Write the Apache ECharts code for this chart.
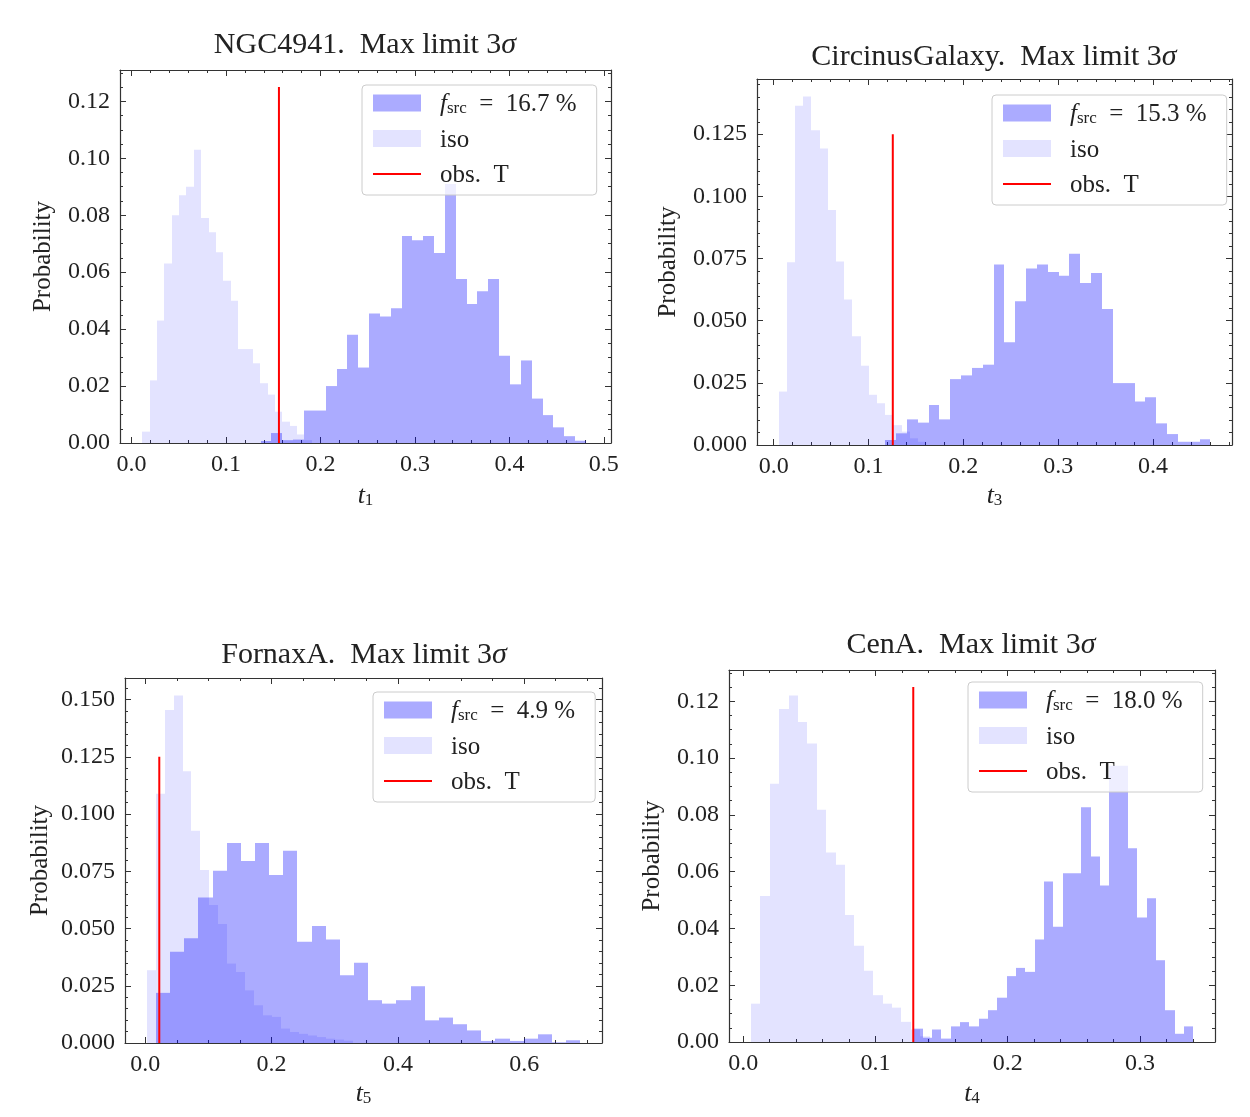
<!DOCTYPE html>
<html><head><meta charset="utf-8">
<script src="https://cdn.jsdelivr.net/npm/echarts@6/dist/echarts.min.js"></script>
<style>html,body{margin:0;padding:0;background:#fff}#c{width:1250px;height:1117px}</style>
</head><body><div id="c"></div>
<script>
// ---------- data (probability per bin) ----------
// NGC4941  (t1)
const ngcIsoStart = 0.0113, ngcIsoWidth = 0.0078;
const ngcIso = [0.004, 0.022, 0.043, 0.063, 0.080, 0.087, 0.090, 0.103, 0.079, 0.074, 0.067, 0.057, 0.050, 0.033, 0.033, 0.028, 0.021, 0.017, 0.011, 0.0075, 0.006, 0.003, 0.001];
const ngcSrcStart = 0.1366, ngcSrcWidth = 0.01148;
const ngcSrc = [0.0007, 0.0035, 0.001, 0.0012, 0.0114, 0.0114, 0.020, 0.026, 0.038, 0.0265, 0.0455, 0.0444, 0.0473, 0.0727, 0.0712, 0.0727, 0.0667, 0.091, 0.0576, 0.0488, 0.0533, 0.0576, 0.0306, 0.0206, 0.029, 0.0156, 0.0098, 0.0055, 0.0024, 0.0008];
const ngcObs = 0.156;
const ngcFrac = '16.7';

// CircinusGalaxy (t3)
const cirIsoStart = 0.0052, cirIsoWidth = 0.00865;
const cirIso = [0.0215, 0.0735, 0.1364, 0.1402, 0.1266, 0.1192, 0.0945, 0.0738, 0.0585, 0.0437, 0.0319, 0.0202, 0.0168, 0.0121, 0.008, 0.0054, 0.0027, 0.0013];
const cirSrcStart = 0.1176, cirSrcWidth = 0.01143;
const cirSrc = [0.002, 0.0047, 0.0103, 0.009, 0.0161, 0.0103, 0.0265, 0.028, 0.031, 0.0323, 0.0726, 0.0413, 0.0578, 0.071, 0.0726, 0.0696, 0.0681, 0.0769, 0.0652, 0.0692, 0.0547, 0.0249, 0.0249, 0.0175, 0.0192, 0.0087, 0.0044, 0.0013, 0.0013, 0.0023];
const cirObs = 0.1256;
const cirFrac = '15.3';

// FornaxA (t5)
const forIsoStart = 0.0021, forIsoWidth = 0.0142;
const forIso = [0.0318, 0.1089, 0.1454, 0.1518, 0.1187, 0.0927, 0.0756, 0.0603, 0.052, 0.0347, 0.031, 0.023, 0.0165, 0.0121, 0.0114, 0.0063, 0.0048, 0.004, 0.0033, 0.0026, 0.0019, 0.0015, 0.001];
const forSrcStart = 0.0168, forSrcWidth = 0.0224;
const forSrc = [0.0219, 0.0398, 0.0457, 0.0635, 0.0752, 0.0873, 0.0795, 0.0873, 0.0734, 0.084, 0.0442, 0.0511, 0.0452, 0.0296, 0.035, 0.0187, 0.0172, 0.0187, 0.0248, 0.0099, 0.0111, 0.0082, 0.0055, 0.0009, 0.0019, 0.0009, 0.0019, 0.0038, 0.0003, 0.0012];
const forObs = 0.0221;
const forFrac = '4.9';

// CenA (t4)
const cenIsoStart = 0.006, cenIsoWidth = 0.0071;
const cenIso = [0.0135, 0.0514, 0.0909, 0.1173, 0.122, 0.1127, 0.1051, 0.0818, 0.0667, 0.0624, 0.0447, 0.0339, 0.0251, 0.0165, 0.0135, 0.0121, 0.0071, 0.0044, 0.002];
const cenSrcStart = 0.1286, cenSrcWidth = 0.00706;
const cenSrc = [0.0047, 0.0015, 0.0044, 0.0012, 0.0055, 0.007, 0.0055, 0.0082, 0.0112, 0.0156, 0.0232, 0.0261, 0.0247, 0.0361, 0.0565, 0.0406, 0.0594, 0.0594, 0.0827, 0.0653, 0.0551, 0.0973, 0.0973, 0.0682, 0.0438, 0.0506, 0.0288, 0.0112, 0.0029, 0.0055];
const cenObs = 0.1286;
const cenFrac = '18.0';

const obsHeight = 0.125;

// ---------- layout / style ----------
const SERIF = '"Liberation Serif", "DejaVu Serif", serif';
const SRC_COLOR = 'rgba(0,0,255,0.33)';
const ISO_COLOR = 'rgba(0,0,255,0.11)';
const AX = '#333';

const panels = [
  {title: 'NGC4941', sub: '1', frac: ngcFrac, iso: [ngcIsoStart, ngcIsoWidth, ngcIso], src: [ngcSrcStart, ngcSrcWidth, ngcSrc], obs: ngcObs,
   xr: [-0.0123, 0.5076], ymax: 0.131, xs: 0.1, xm: 5, xd: 1, ys: 0.02, ym: 4, yd: 2,
   grid: [120, 70, 491, 373], tpos: [365, 30], lpos: [362, 85], yGap: 64, xGap: 38},
  {title: 'CircinusGalaxy', sub: '3', frac: cirFrac, iso: [cirIsoStart, cirIsoWidth, cirIso], src: [cirSrcStart, cirSrcWidth, cirSrc], obs: cirObs,
   xr: [-0.0176, 0.4833], ymax: 0.1472, xs: 0.1, xm: 5, xd: 1, ys: 0.025, ym: 5, yd: 3,
   grid: [757, 79, 475, 366], tpos: [994, 42], lpos: [992, 95], yGap: 76, xGap: 36},
  {title: 'FornaxA', sub: '5', frac: forFrac, iso: [forIsoStart, forIsoWidth, forIso], src: [forSrcStart, forSrcWidth, forSrc], obs: forObs,
   xr: [-0.0322, 0.7233], ymax: 0.1594, xs: 0.2, xm: 4, xd: 1, ys: 0.025, ym: 5, yd: 3,
   grid: [125, 678, 477, 365], tpos: [364, 640], lpos: [373, 692], yGap: 72, xGap: 36},
  {title: 'CenA', sub: '4', frac: cenFrac, iso: [cenIsoStart, cenIsoWidth, cenIso], src: [cenSrcStart, cenSrcWidth, cenSrc], obs: cenObs,
   xr: [-0.0107, 0.3567], ymax: 0.131, xs: 0.1, xm: 5, xd: 1, ys: 0.02, ym: 4, yd: 2,
   grid: [729, 670, 486, 372], tpos: [971, 630], lpos: [968, 682], yGap: 64, xGap: 37}
];

function bins(spec) {
  const [start, w, vals] = spec;
  return vals.map((v, i) => [start + i * w, start + (i + 1) * w, v]);
}
function isMult(v, s) { const r = v / s; return Math.abs(r - Math.round(r)) < 1e-6; }
function histRender(color) {
  return function (params, api) {
    const p0 = api.coord([api.value(0), api.value(2)]);
    const p1 = api.coord([api.value(1), 0]);
    const x0 = Math.round(p0[0]), x1 = Math.round(p1[0]);
    return {type: 'rect', shape: {x: x0, y: p0[1], width: x1 - x0, height: p1[1] - p0[1]}, style: {fill: color}};
  };
}

const grids = [], xAxes = [], yAxes = [], series = [], titles = [], legends = [];
const tickCommon = {inside: true, length: 6, lineStyle: {color: AX, width: 1}};
const lineCommon = {show: true, onZero: false, lineStyle: {color: AX, width: 1.2}};

panels.forEach((p, i) => {
  grids.push({left: p.grid[0], top: p.grid[1], width: p.grid[2], height: p.grid[3], containLabel: false});
  const xBase = {type: 'value', gridIndex: i, min: p.xr[0], max: p.xr[1], minInterval: p.xs, maxInterval: p.xs,
    axisLine: lineCommon, axisTick: tickCommon, minorTick: {show: true, splitNumber: p.xm, length: 3, lineStyle: {color: AX, width: 1}},
    splitLine: {show: false}};
  xAxes.push(Object.assign({}, xBase, {position: 'bottom',
    name: '{t|t}{s|' + p.sub + '}', nameLocation: 'middle', nameGap: p.xGap,
    nameTextStyle: {rich: {t: {fontFamily: SERIF, fontStyle: 'italic', fontSize: 26, color: '#222', lineHeight: 28, verticalAlign: 'bottom'},
                           s: {fontFamily: SERIF, fontSize: 17, color: '#222', lineHeight: 14, verticalAlign: 'bottom'}}},
    axisLabel: {show: true, margin: 10, fontFamily: SERIF, fontSize: 24, color: '#222',
      formatter: v => isMult(v, p.xs) ? Number(v).toFixed(p.xd) : ''}}));
  xAxes.push(Object.assign({}, xBase, {position: 'top', axisLabel: {show: false}}));
  const yBase = {type: 'value', gridIndex: i, min: 0, max: p.ymax, minInterval: p.ys, maxInterval: p.ys,
    axisLine: lineCommon, axisTick: tickCommon, minorTick: {show: true, splitNumber: p.ym, length: 3, lineStyle: {color: AX, width: 1}},
    splitLine: {show: false}};
  yAxes.push(Object.assign({}, yBase, {position: 'left',
    name: 'Probability', nameLocation: 'middle', nameGap: p.yGap,
    nameTextStyle: {fontFamily: SERIF, fontSize: 25, color: '#222'},
    axisLabel: {show: true, margin: 10, fontFamily: SERIF, fontSize: 24, color: '#222',
      formatter: v => isMult(v, p.ys) ? Number(v).toFixed(p.yd) : ''}}));
  yAxes.push(Object.assign({}, yBase, {position: 'right', axisLabel: {show: false}}));

  series.push({name: 'iso' + i, type: 'custom', xAxisIndex: 2 * i, yAxisIndex: 2 * i, clip: true,
    renderItem: histRender(ISO_COLOR), itemStyle: {color: ISO_COLOR}, encode: {x: [0, 1], y: 2}, data: bins(p.iso), z: 2});
  series.push({name: 'src' + i, type: 'custom', xAxisIndex: 2 * i, yAxisIndex: 2 * i, clip: true,
    renderItem: histRender(SRC_COLOR), itemStyle: {color: SRC_COLOR}, encode: {x: [0, 1], y: 2}, data: bins(p.src), z: 3});
  series.push({name: 'obs' + i, type: 'line', xAxisIndex: 2 * i, yAxisIndex: 2 * i,
    symbol: 'none', silent: true,
    lineStyle: {color: '#ff0000', width: 2}, itemStyle: {color: '#ff0000'},
    data: [[p.obs, 0], [p.obs, obsHeight]], z: 4});

  titles.push({text: '{n|' + p.title + '.  Max limit 3}{s|σ}', left: p.tpos[0], top: p.tpos[1], textAlign: 'center', padding: 0,
    textStyle: {rich: {n: {fontFamily: SERIF, fontWeight: 'normal', fontSize: 30, color: '#222'},
                       s: {fontFamily: SERIF, fontWeight: 'normal', fontStyle: 'italic', fontSize: 30, color: '#222'}}}});

  const frac = p.frac;
  legends.push({left: p.lpos[0], top: p.lpos[1], orient: 'vertical', itemWidth: 48, itemHeight: 17, itemGap: 10.5,
    padding: [7, 20, 7, 10], backgroundColor: 'rgba(255,255,255,0.8)', borderColor: '#cccccc', borderWidth: 1, borderRadius: 4,
    selectedMode: false,
    data: [{name: 'src' + i, icon: 'rect'}, {name: 'iso' + i, icon: 'rect'},
           {name: 'obs' + i, itemStyle: {opacity: 0}, lineStyle: {color: '#ff0000', width: 2, opacity: 1}}],
    formatter: function (name) {
      if (name.startsWith('src')) return '{g|}{f|f}{s|src}{n|\u2002=\u2002' + frac + ' %}';
      if (name.startsWith('iso')) return '{g|}{n|iso}';
      return '{g|}{n|obs.  T}';
    },
    textStyle: {rich: {
      g: {width: 14},
      n: {fontFamily: SERIF, fontSize: 25, color: '#222', lineHeight: 28, verticalAlign: 'bottom'},
      f: {fontFamily: SERIF, fontStyle: 'italic', fontSize: 25, color: '#222', lineHeight: 28, verticalAlign: 'bottom'},
      s: {fontFamily: SERIF, fontSize: 17, color: '#222', lineHeight: 12, verticalAlign: 'bottom'}
    }}});
});

const chart = echarts.init(document.getElementById('c'), null, {renderer: 'canvas'});
chart.setOption({
  backgroundColor: '#ffffff',
  animation: false,
  title: titles,
  legend: legends,
  grid: grids,
  xAxis: xAxes,
  yAxis: yAxes,
  series: series
});
</script></body></html>
